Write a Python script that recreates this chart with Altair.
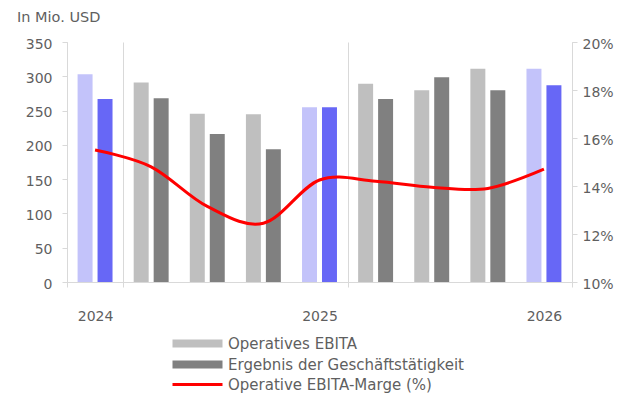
import altair as alt
import pandas as pd

groups = ["g1", "g2", "g3", "g4", "g5", "g6", "g7", "g8", "g9"]
year_labels = {"g1": "2024", "g5": "2025", "g9": "2026"}
highlight = [True, False, False, False, True, False, False, False, True]
op_ebita = [303, 291, 245.5, 244.5, 255, 289, 279.5, 311, 311]
ergebnis = [267, 268, 216, 193.5, 255, 267, 298.5, 279.5, 287]
margin_pct = [15.5, 14.8, 13.15, 12.45, 14.25, 14.2, 13.95, 13.9, 14.7]

S1 = "Operatives EBITA"
S2 = "Ergebnis der Geschäftstätigkeit"
S3 = "Operative EBITA-Marge (%)"

rows = []
for i, g in enumerate(groups):
    suffix = " (hl)" if highlight[i] else ""
    rows.append({"group": g, "series": S1, "value": op_ebita[i], "key": S1 + suffix})
    rows.append({"group": g, "series": S2, "value": ergebnis[i], "key": S2 + suffix})
bars_df = pd.DataFrame(rows)
line_df = pd.DataFrame({"group": groups, "margin": [m / 100 for m in margin_pct], "label": [S3] * len(groups)})

FONT = "DejaVu Sans"
TXT = "#5f5f5f"
AX = "#d9d9d9"

label_expr = "{'g1':'2024','g5':'2025','g9':'2026'}[datum.value] || ''"

x_enc = alt.X(
    "group:N",
    scale=alt.Scale(domain=groups, paddingInner=0, paddingOuter=0),
    axis=alt.Axis(
        values=["g1", "g5", "g9"], tickBand="extent", grid=True, gridColor=AX,
        domainColor=AX, tickColor=AX, tickSize=5, labelExpr=label_expr,
        labelFont=FONT, labelFontSize=14, labelColor=TXT, labelPadding=22,
        title=None, labelAngle=0,
    ),
)

# symbol scale is sqrt(size)/2 = 4 px per path unit: 50 x 8 px swatch starting at the symbol's left
rect_path = "M-1,-1L11.5,-1L11.5,1L-1,1Z"
line_path = "M-1,0L11.5,0"

bars = alt.Chart(bars_df).mark_bar().encode(
    x=x_enc,
    xOffset=alt.XOffset("series:N", scale=alt.Scale(domain=[S1, S2], paddingInner=0.25, paddingOuter=0.53)),
    y=alt.Y(
        "value:Q",
        scale=alt.Scale(domain=[0, 350]),
        axis=alt.Axis(
            values=[0, 50, 100, 150, 200, 250, 300, 350], grid=False, domainColor=AX,
            tickColor=AX, tickSize=5, labelPadding=10, labelFont=FONT, labelFontSize=14,
            labelColor=TXT, labelOffset=2, title=None,
        ),
    ),
    fill=alt.Fill(
        "key:N",
        scale=alt.Scale(
            domain=[S1, S2, S1 + " (hl)", S2 + " (hl)"],
            range=["#bfbfbf", "#808080", "#c3c3fa", "#6767f6"],
        ),
        legend=alt.Legend(
            values=[S1, S2], orient="none", legendX=102, legendY=294, title=None,
            symbolType=rect_path, symbolSize=64, symbolStrokeWidth=0,
            labelFont=FONT, labelFontSize=15, labelColor=TXT, labelOffset=44,
            labelLimit=400, rowPadding=5,
        ),
    ),
)

line = alt.Chart(line_df).mark_line(strokeWidth=3, interpolate="cardinal").encode(
    x=alt.X("group:N"),
    y=alt.Y(
        "margin:Q",
        scale=alt.Scale(domain=[0.10, 0.20]),
        axis=alt.Axis(
            orient="right", values=[0.10, 0.12, 0.14, 0.16, 0.18, 0.20], format=".0%",
            grid=False, domainColor=AX, tickColor=AX, tickSize=5, labelPadding=5,
            labelFont=FONT, labelFontSize=14, labelColor=TXT, labelOffset=2, title=None,
        ),
    ),
    stroke=alt.Stroke(
        "label:N",
        scale=alt.Scale(domain=[S3], range=["#ff0000"]),
        legend=alt.Legend(
            orient="none", legendX=102, legendY=335, title=None,
            symbolType=line_path, symbolSize=64, symbolStrokeWidth=3,
            labelFont=FONT, labelFontSize=15, labelColor=TXT, labelOffset=44,
            labelLimit=400,
        ),
    ),
)

chart = (
    alt.layer(bars, line)
    .resolve_scale(y="independent", fill="independent", stroke="independent")
    .properties(
        width=505,
        height=240,
        autosize=alt.AutoSizeParams(type="none"),
        padding={"left": 59, "top": 34, "right": 50, "bottom": 111},
        title=alt.TitleParams(
            "In Mio. USD", anchor="start", frame="group", dx=-50, offset=12, font=FONT,
            fontSize=14.5, fontWeight="normal", color=TXT,
        ),
    )
    .configure_view(stroke=None)
)

chart.save("out.html", embed_options={"renderer": "svg", "actions": False})
